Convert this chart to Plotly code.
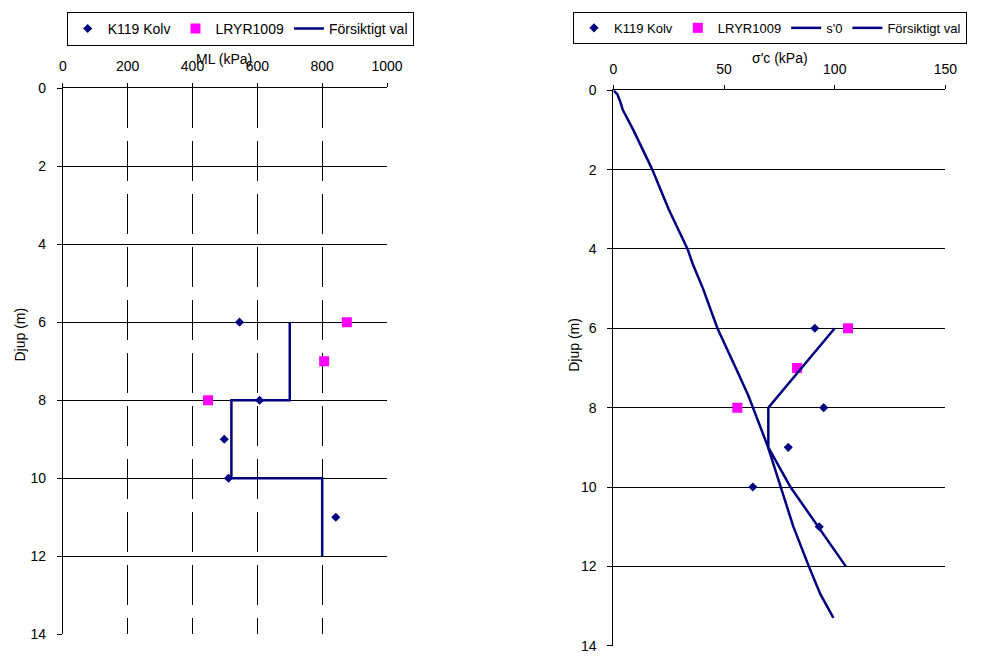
import plotly.graph_objects as go

# ---------------- data ----------------
# Left chart: ML (kPa) vs depth
ml_k119_depth = [6, 8, 9, 10, 11]
ml_k119_val = [545, 607, 498, 511, 842]
ml_lryr_depth = [6, 7, 8]
ml_lryr_val = [876, 806, 448]
ml_val_depth = [6, 8, 8, 10, 10, 12]
ml_val_val = [700, 700, 520, 520, 800, 800]

# Right chart: sigma'c (kPa) vs depth
sc_k119_depth = [6, 8, 9, 10, 11]
sc_k119_val = [91, 95, 79, 63, 93]
sc_lryr_depth = [6, 7, 8]
sc_lryr_val = [106, 83, 56]
s0_depth = [0, 0.1, 0.3, 0.5, 1, 2, 2.5, 3, 4, 4.4, 5, 6, 7, 7.7, 9, 10, 11, 12, 12.7, 13.3]
s0_val = [0, 1.8, 3.2, 4.3, 9, 17.6, 21.3, 25, 33.5, 36, 40.5, 47, 55.3, 61, 69.9, 75.7, 81.3, 88.3, 93.5, 99.4]
sc_val_depth = [6, 8, 9, 10, 12]
sc_val_val = [100, 70, 70, 80, 105]

depth_ticks = [0, 2, 4, 6, 8, 10, 12, 14]
ml_ticks = [0, 200, 400, 600, 800, 1000]
sc_ticks = [0, 50, 100, 150]

NAVY = "#000080"
MAG = "#FF00FF"
FONT = "Liberation Sans, Arial, sans-serif"
W, H = 983, 658

fig = go.Figure()

# left chart traces
fig.add_trace(go.Scatter(x=ml_k119_val, y=ml_k119_depth, mode="markers", name="K119 Kolv",
                         marker=dict(symbol="diamond", size=7, color=NAVY),
                         xaxis="x", yaxis="y", legend="legend"))
fig.add_trace(go.Scatter(x=ml_lryr_val, y=ml_lryr_depth, mode="markers", name="LRYR1009",
                         marker=dict(symbol="square", size=10, color=MAG),
                         xaxis="x", yaxis="y", legend="legend"))
fig.add_trace(go.Scatter(x=ml_val_val, y=ml_val_depth, mode="lines", name="Försiktigt val",
                         line=dict(color=NAVY, width=2.5),
                         xaxis="x", yaxis="y", legend="legend"))

# right chart traces
fig.add_trace(go.Scatter(x=sc_k119_val, y=sc_k119_depth, mode="markers", name="K119 Kolv",
                         marker=dict(symbol="diamond", size=7, color=NAVY),
                         xaxis="x2", yaxis="y2", legend="legend2"))
fig.add_trace(go.Scatter(x=sc_lryr_val, y=sc_lryr_depth, mode="markers", name="LRYR1009",
                         marker=dict(symbol="square", size=10, color=MAG),
                         xaxis="x2", yaxis="y2", legend="legend2"))
fig.add_trace(go.Scatter(x=s0_val, y=s0_depth, mode="lines", name="s'0",
                         line=dict(color=NAVY, width=2.5),
                         xaxis="x2", yaxis="y2", legend="legend2"))
fig.add_trace(go.Scatter(x=sc_val_val, y=sc_val_depth, mode="lines", name="Försiktigt val",
                         line=dict(color=NAVY, width=2.5),
                         xaxis="x2", yaxis="y2", legend="legend2"))

tickfont = dict(family=FONT, size=14, color="black")

def px_x(p):
    return p / W

def px_y(p):
    return 1 - p / H

fig.update_layout(
    width=W, height=H,
    margin=dict(l=0, r=0, t=0, b=0),
    paper_bgcolor="white", plot_bgcolor="white",
    font=dict(family=FONT, size=14, color="black"),
    xaxis=dict(domain=[px_x(60), px_x(391)], range=[0, 1000], side="top", anchor="y",
               tickvals=ml_ticks, ticks="outside", ticklen=4, tickcolor="black",
               showline=True, linecolor="black", linewidth=1, tickfont=tickfont,
               ticklabelstandoff=6,
               showgrid=True, gridcolor="black", gridwidth=1, griddash="40px,13px",
               zeroline=False, fixedrange=True),
    yaxis=dict(domain=[px_y(642), px_y(82)], range=[14, 0], anchor="x",
               tickvals=depth_ticks, ticks="outside", ticklen=5, tickcolor="black",
               showline=True, linecolor="black", linewidth=1, tickfont=tickfont,
               ticklabelstandoff=8,
               showgrid=True, gridcolor="black", gridwidth=1,
               zeroline=False, fixedrange=True),
    xaxis2=dict(domain=[px_x(622), px_x(961)], range=[0, 150], side="top", anchor="y2",
                tickvals=sc_ticks, ticks="outside", ticklen=4, tickcolor="black",
                showline=True, linecolor="black", linewidth=1, tickfont=tickfont,
                ticklabelstandoff=6,
                showgrid=False, zeroline=False, fixedrange=True),
    yaxis2=dict(domain=[px_y(653.6), px_y(84.3)], range=[14, 0], anchor="x2",
                tickvals=depth_ticks, ticks="outside", ticklen=5, tickcolor="black",
                showline=True, linecolor="black", linewidth=1, tickfont=tickfont,
                ticklabelstandoff=8,
                showgrid=True, gridcolor="black", gridwidth=1,
                zeroline=False, fixedrange=True),
    legend=dict(orientation="h", x=px_x(64), y=px_y(4), xanchor="left", yanchor="top",
                bordercolor="black", borderwidth=1, bgcolor="white",
                font=dict(family=FONT, size=14, color="black")),
    legend2=dict(orientation="h", x=1, y=px_y(4), xanchor="right", yanchor="top",
                 bordercolor="black", borderwidth=1, bgcolor="white",
                 font=dict(family=FONT, size=13, color="black")),
    annotations=[
        dict(text="ML (kPa)", x=px_x(225), y=px_y(52), xref="paper", yref="paper",
             showarrow=False, xanchor="center", yanchor="middle",
             font=dict(family=FONT, size=14, color="black")),
        dict(text="σ'c (kPa)", x=px_x(792), y=px_y(51), xref="paper", yref="paper",
             showarrow=False, xanchor="center", yanchor="middle",
             font=dict(family=FONT, size=14, color="black")),
        dict(text="Djup (m)", x=px_x(16), y=px_y(335), xref="paper", yref="paper",
             showarrow=False, xanchor="center", yanchor="middle", textangle=-90,
             font=dict(family=FONT, size=14, color="black")),
        dict(text="Djup (m)", x=px_x(581), y=px_y(345), xref="paper", yref="paper",
             showarrow=False, xanchor="center", yanchor="middle", textangle=-90,
             font=dict(family=FONT, size=14, color="black")),
    ],
)

fig.write_html("out.html",
               post_script="document.body.style.margin='0';")
